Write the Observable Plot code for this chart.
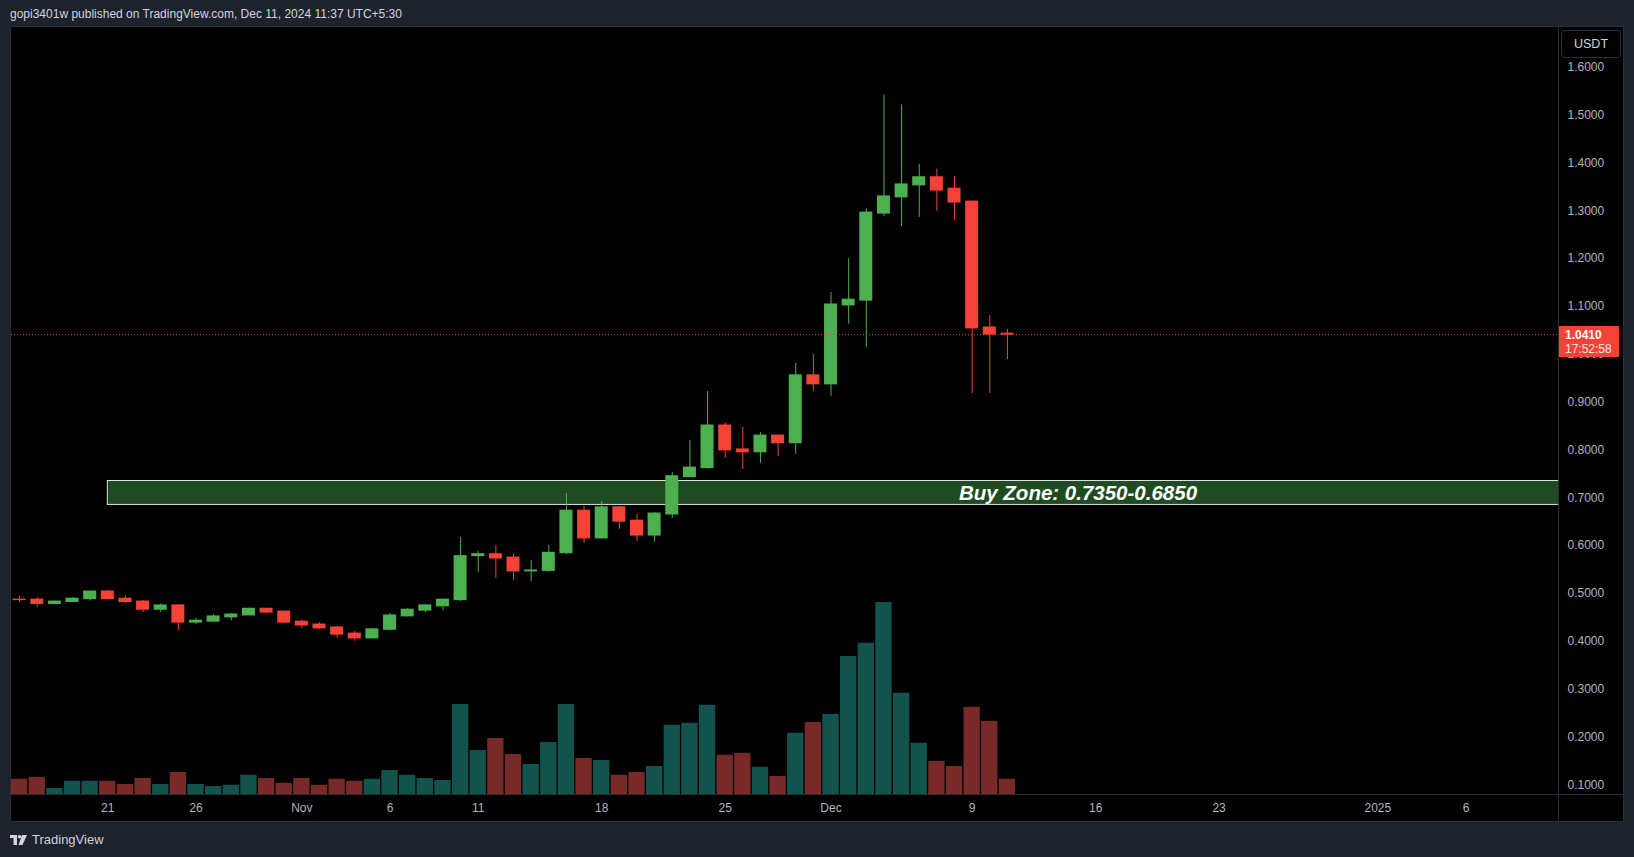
<!DOCTYPE html>
<html><head><meta charset="utf-8">
<script src="https://cdn.jsdelivr.net/npm/d3@7"></script>
<script src="https://cdn.jsdelivr.net/npm/@observablehq/plot@0.6"></script>
<style>
html,body{margin:0;padding:0;background:#1e222d;width:1634px;height:857px;overflow:hidden;}
body{position:relative;font-family:"Liberation Sans",Roboto,sans-serif;}
#header{position:absolute;left:10px;top:0;height:27px;line-height:29px;color:#d1d4dc;font-size:12px;white-space:nowrap;}
#panel{position:absolute;left:10px;top:26px;width:1612px;height:794px;border:1px solid #2a2e39;background:#000;}
#layers{position:absolute;left:11px;top:27px;width:1612px;height:794px;}
#layers svg{position:absolute;left:0;top:0;}
.vline{position:absolute;left:1558px;top:27px;width:1px;height:794px;background:#2a2e39;}
.hline{position:absolute;left:11px;top:794px;width:1612px;height:1px;background:#2a2e39;}
#usdt{position:absolute;left:1561px;top:30px;width:58px;height:26px;border:1px solid #2a2e39;border-radius:4px;background:#000;color:#d1d4dc;font-size:12.5px;line-height:26px;text-align:center;}
#pricebox{position:absolute;left:1559px;width:60px;height:31px;background:#f44336;color:#fff;font-size:12px;line-height:14px;padding-top:2px;box-sizing:border-box;padding-left:6px;}
#pricebox b{display:block;}
#pricebox span{display:block;color:#ffe3e0;}
#footer{position:absolute;left:10px;top:830px;height:20px;color:#d1d4dc;font-size:13px;line-height:20px;display:flex;align-items:center;gap:4px;}
</style>
</head><body>
<div id="header"></div>
<div id="panel"></div>
<div id="layers"></div>
<div class="vline"></div>
<div class="hline"></div>
<div id="usdt">USDT</div>
<div id="pricebox"></div>
<div id="footer"><svg width="18" height="12" viewBox="0 0 18 12"><rect x="0" y="1" width="7" height="3" fill="#d1d4dc"/><rect x="3.5" y="1" width="3.5" height="10" fill="#d1d4dc"/><circle cx="9.5" cy="2.7" r="1.8" fill="#d1d4dc"/><polygon points="12,1 17,1 12.5,11 8.5,11" fill="#d1d4dc"/></svg><span id="brand"></span></div>
<script>
// ---------------- data ----------------
const headerText = "gopi3401w published on TradingView.com, Dec 11, 2024 11:37 UTC+5:30";
const brandText = "TradingView";
const currency = "USDT";

const dates = [
  "2024-10-16","2024-10-17","2024-10-18","2024-10-19","2024-10-20","2024-10-21","2024-10-22","2024-10-23",
  "2024-10-24","2024-10-25","2024-10-26","2024-10-27","2024-10-28","2024-10-29","2024-10-30","2024-10-31",
  "2024-11-01","2024-11-02","2024-11-03","2024-11-04","2024-11-05","2024-11-06","2024-11-07","2024-11-08",
  "2024-11-09","2024-11-10","2024-11-11","2024-11-12","2024-11-13","2024-11-14","2024-11-15","2024-11-16",
  "2024-11-17","2024-11-18","2024-11-19","2024-11-20","2024-11-21","2024-11-22","2024-11-23","2024-11-24",
  "2024-11-25","2024-11-26","2024-11-27","2024-11-28","2024-11-29","2024-11-30","2024-12-01","2024-12-02",
  "2024-12-03","2024-12-04","2024-12-05","2024-12-06","2024-12-07","2024-12-08","2024-12-09","2024-12-10",
  "2024-12-11"
];
const open = [
  0.487,0.487,0.478,0.482,0.488,0.504,0.489,0.483,0.466,0.475,0.439,0.441,0.450,0.454,0.468,0.462,
  0.441,0.435,0.429,0.416,0.406,0.424,0.452,0.464,0.473,0.486,0.578,0.582,0.575,0.546,0.547,0.584,
  0.673,0.615,0.680,0.652,0.621,0.665,0.743,0.762,0.851,0.801,0.795,0.830,0.814,0.956,0.937,1.102,
  1.112,1.294,1.328,1.353,1.370,1.346,1.319,1.056,1.043
];
const high = [
  0.494,0.492,0.484,0.491,0.505,0.506,0.494,0.485,0.478,0.476,0.448,0.456,0.458,0.469,0.469,0.463,
  0.444,0.439,0.430,0.421,0.427,0.458,0.468,0.476,0.488,0.617,0.588,0.600,0.582,0.569,0.600,0.709,
  0.682,0.692,0.682,0.665,0.669,0.753,0.820,0.922,0.857,0.847,0.836,0.831,0.981,1.000,1.129,1.200,
  1.303,1.542,1.521,1.397,1.387,1.372,1.320,1.081,1.052
];
const low = [
  0.481,0.471,0.477,0.481,0.484,0.487,0.479,0.460,0.460,0.423,0.435,0.440,0.443,0.454,0.458,0.437,
  0.427,0.425,0.406,0.400,0.405,0.422,0.451,0.460,0.464,0.483,0.544,0.531,0.527,0.525,0.544,0.581,
  0.605,0.614,0.634,0.609,0.607,0.657,0.742,0.760,0.782,0.759,0.772,0.786,0.791,0.922,0.912,1.063,
  1.014,1.288,1.267,1.286,1.299,1.280,0.918,0.918,0.989
];
const close = [
  0.486,0.478,0.483,0.489,0.504,0.488,0.482,0.466,0.475,0.439,0.443,0.452,0.456,0.468,0.460,0.439,
  0.433,0.427,0.414,0.406,0.425,0.454,0.466,0.475,0.487,0.578,0.582,0.573,0.546,0.548,0.585,0.673,
  0.615,0.680,0.650,0.621,0.667,0.745,0.763,0.851,0.799,0.795,0.830,0.814,0.956,0.937,1.104,1.114,
  1.296,1.330,1.355,1.370,1.342,1.317,1.054,1.041,1.041
];
// volume, millions (estimated)
const volume = [
  3.8,4.3,1.5,3.3,3.3,3.3,2.5,4.0,2.5,5.5,2.5,2.0,2.3,4.8,4.0,2.8,
  4.0,2.3,3.8,3.3,3.8,6.0,4.8,4.0,3.5,22.5,11.0,14.0,10.0,7.5,13.0,22.5,
  9.0,8.5,4.8,5.5,7.0,17.3,17.8,22.3,9.8,10.3,6.8,4.5,15.3,18.0,20.0,34.5,
  37.8,48.0,25.3,12.8,8.3,7.0,21.8,18.3,3.8
];
const xTickDates = ["2024-10-21","2024-10-26","2024-11-01","2024-11-06","2024-11-11","2024-11-18","2024-11-25",
                    "2024-12-01","2024-12-09","2024-12-16","2024-12-23","2025-01-01","2025-01-06"];
const xTickLabels = ["21","26","Nov","6","11","18","25","Dec","9","16","23","2025","6"];
const priceTicks = [0.1,0.2,0.3,0.4,0.5,0.6,0.7,0.8,0.9,1.0,1.1,1.2,1.3,1.4,1.5,1.6];
const zoneStart = "2024-10-21", zoneEnd = "2025-02-01";
const zoneHigh = 0.735, zoneLow = 0.685;
const zoneLabel = "Buy Zone: 0.7350-0.6850";
const zoneLabelDate = "2024-12-15";
const lastPrice = 1.041;
const lastPriceText = "1.0410";
const countdown = "17:52:58";

// ---------------- setup ----------------
document.getElementById("header").textContent = headerText;
document.getElementById("brand").textContent = brandText;
document.getElementById("usdt").textContent = currency;

const utc = s => new Date(s + "T00:00:00Z");
const rows = dates.map((d, i) => ({date: utc(d), o: open[i], h: high[i], l: low[i], c: close[i], v: volume[i]}));
const isUp = d => d.c >= d.o;
const GREEN = "#4caf50", RED = "#f44336";
const VGREEN = "#13534d", VRED = "#782a28";
const HOUR = 3600e3;
const bodyHalf = 8.85 * HOUR, volHalf = 11.1 * HOUR;

const W = 1612, H = 794, MR = 65, MB = 27;
const xDomain = [new Date("2024-10-15T12:59:00Z"), new Date("2025-01-11T05:46:00Z")];
const yDomain = [0.0797, 1.683];
const axisFont = '"Liberation Sans",Roboto,sans-serif';
const labelMap = new Map(xTickDates.map((d, i) => [+utc(d), xTickLabels[i]]));

const volChart = Plot.plot({
  width: W, height: H, marginLeft: 0, marginRight: MR, marginTop: 0, marginBottom: MB,
  style: {background: "transparent"},
  x: {type: "utc", domain: xDomain, axis: null},
  y: {domain: [0, 191.75], axis: null},
  marks: [
    Plot.rect(rows, {
      x1: d => new Date(+d.date - volHalf), x2: d => new Date(+d.date + volHalf),
      y1: 0, y2: "v", fill: d => isUp(d) ? VGREEN : VRED
    })
  ]
});

const priceChart = Plot.plot({
  width: W, height: H, marginLeft: 0, marginRight: MR, marginTop: 0, marginBottom: MB,
  style: {background: "transparent", color: "#b2b5be", fontFamily: axisFont, fontSize: "12px", overflow: "visible"},
  x: {type: "utc", domain: xDomain},
  y: {domain: yDomain},
  marks: [
    Plot.rect([{x1: utc(zoneStart), x2: utc(zoneEnd), y1: zoneLow, y2: zoneHigh}], {
      x1: "x1", x2: "x2", y1: "y1", y2: "y2", fill: "#1f4b23", stroke: "#dfe1e6", strokeWidth: 1, clip: true
    }),
    Plot.text([{date: utc(zoneLabelDate), p: (zoneHigh + zoneLow) / 2, t: zoneLabel}], {
      x: "date", y: "p", text: "t", fill: "#ffffff", fontSize: 20.5, fontWeight: "bold",
      fontStyle: "italic", fontFamily: '"Liberation Sans",Arial,sans-serif'
    }),
    Plot.ruleX(rows, {x: "date", y1: "l", y2: "h", stroke: d => isUp(d) ? GREEN : RED, strokeWidth: 1}),
    Plot.rect(rows, {
      x1: d => new Date(+d.date - bodyHalf), x2: d => new Date(+d.date + bodyHalf),
      y1: "o", y2: "c", fill: d => isUp(d) ? GREEN : RED, insetTop: -0.5, insetBottom: -0.5
    }),
    Plot.ruleY([lastPrice], {stroke: RED, strokeWidth: 1, strokeDasharray: "1,2"}),
    Plot.axisY(priceTicks, {
      anchor: "right", tickSize: 0, tickPadding: 9, label: null,
      tickFormat: d => d.toFixed(4), fill: "#b2b5be", fontSize: 12
    }),
    Plot.axisX(xTickDates.map(utc), {
      anchor: "bottom", tickSize: 0, tickPadding: 9, label: null,
      tickFormat: d => labelMap.get(+d), fill: "#b2b5be", fontSize: 12
    })
  ]
});

const layers = document.getElementById("layers");
layers.appendChild(volChart);
layers.appendChild(priceChart);

const yPx = priceChart.scale("y").apply(lastPrice);
const pb = document.getElementById("pricebox");
pb.style.top = (27 + yPx - 8) + "px";
pb.innerHTML = "<b></b><span></span>";
pb.querySelector("b").textContent = lastPriceText;
pb.querySelector("span").textContent = countdown;
</script>
</body></html>
